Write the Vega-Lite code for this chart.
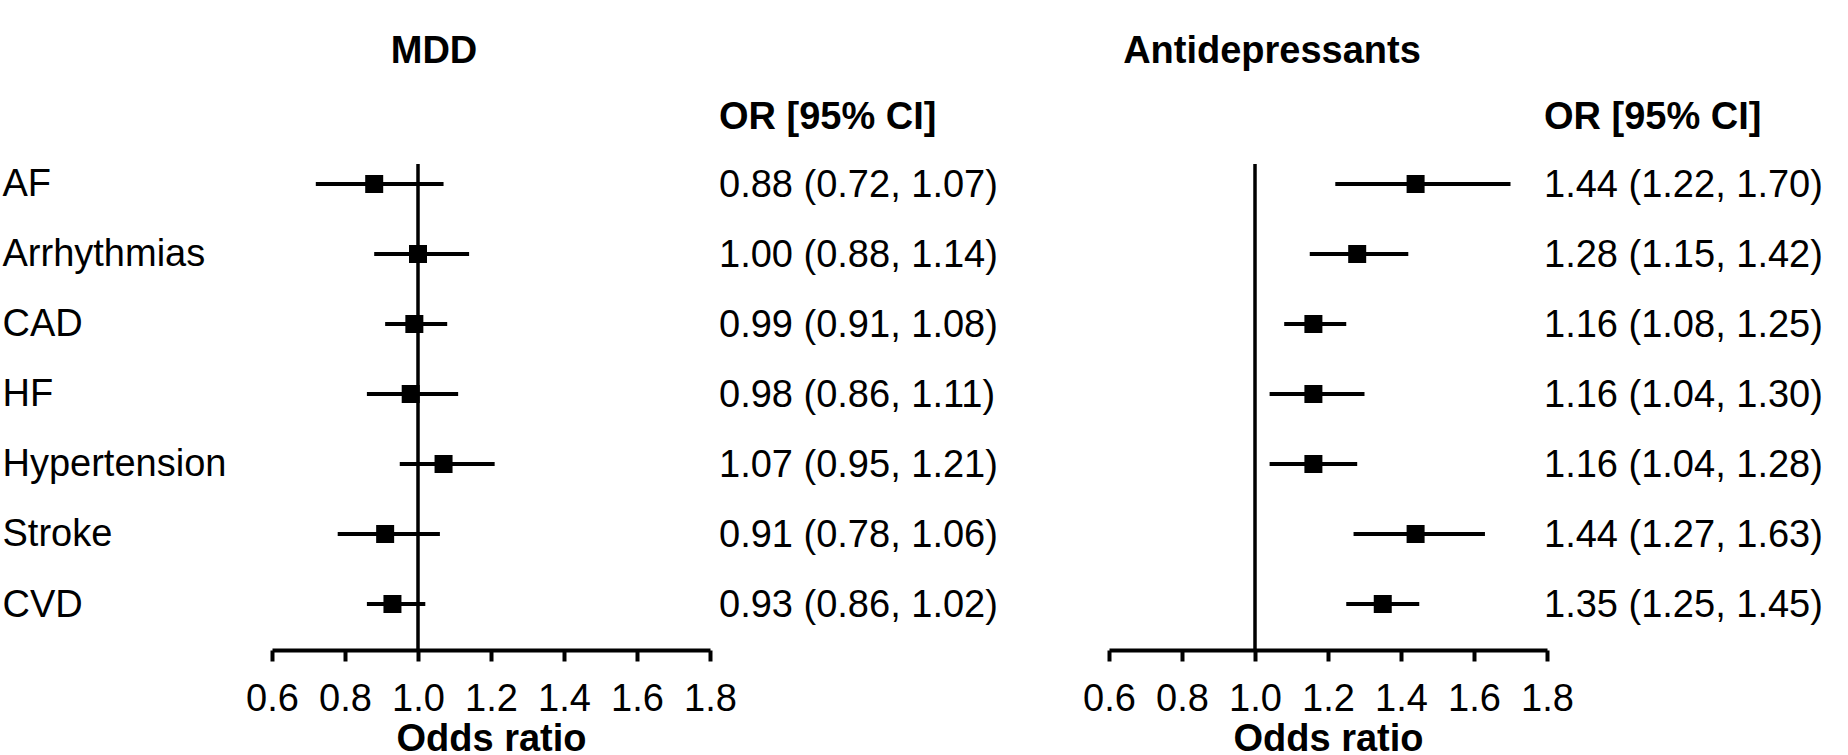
{
  "$schema": "https://vega.github.io/schema/vega-lite/v6.json",
  "padding": {"left": 2, "top": 32, "right": 0, "bottom": 0},
  "background": "white",
  "spacing": 84,
  "config": {
    "font": "Liberation Sans",
    "view": {"stroke": null},
    "title": {"font": "Liberation Sans", "fontSize": 38, "fontWeight": "bold", "color": "black", "anchor": "middle", "frame": "group"},
    "axis": {"labelFont": "Liberation Sans", "titleFont": "Liberation Sans", "labelColor": "black", "titleColor": "black", "grid": false}
  },
  "datasets": {
    "mdd": [
      {"outcome": "AF", "or": 0.88, "lo": 0.72, "hi": 1.07, "ci": "0.88 (0.72, 1.07)"},
      {"outcome": "Arrhythmias", "or": 1.00, "lo": 0.88, "hi": 1.14, "ci": "1.00 (0.88, 1.14)"},
      {"outcome": "CAD", "or": 0.99, "lo": 0.91, "hi": 1.08, "ci": "0.99 (0.91, 1.08)"},
      {"outcome": "HF", "or": 0.98, "lo": 0.86, "hi": 1.11, "ci": "0.98 (0.86, 1.11)"},
      {"outcome": "Hypertension", "or": 1.07, "lo": 0.95, "hi": 1.21, "ci": "1.07 (0.95, 1.21)"},
      {"outcome": "Stroke", "or": 0.91, "lo": 0.78, "hi": 1.06, "ci": "0.91 (0.78, 1.06)"},
      {"outcome": "CVD", "or": 0.93, "lo": 0.86, "hi": 1.02, "ci": "0.93 (0.86, 1.02)"}
    ],
    "ad": [
      {"outcome": "AF", "or": 1.44, "lo": 1.22, "hi": 1.70, "ci": "1.44 (1.22, 1.70)"},
      {"outcome": "Arrhythmias", "or": 1.28, "lo": 1.15, "hi": 1.42, "ci": "1.28 (1.15, 1.42)"},
      {"outcome": "CAD", "or": 1.16, "lo": 1.08, "hi": 1.25, "ci": "1.16 (1.08, 1.25)"},
      {"outcome": "HF", "or": 1.16, "lo": 1.04, "hi": 1.30, "ci": "1.16 (1.04, 1.30)"},
      {"outcome": "Hypertension", "or": 1.16, "lo": 1.04, "hi": 1.28, "ci": "1.16 (1.04, 1.28)"},
      {"outcome": "Stroke", "or": 1.44, "lo": 1.27, "hi": 1.63, "ci": "1.44 (1.27, 1.63)"},
      {"outcome": "CVD", "or": 1.35, "lo": 1.25, "hi": 1.45, "ci": "1.35 (1.25, 1.45)"}
    ],
    "ref": [{"ref": 1.0, "header": "OR [95% CI]", "right": 1.8, "first": "AF"}]
  },
  "hconcat": [
    {
      "width": 438,
      "height": 486,
      "title": {"text": "MDD", "dx": -57, "offset": 28},
      "layer": [
        {
          "data": {"name": "ref"},
          "mark": {"type": "rule", "color": "black", "strokeWidth": 3.5},
          "encoding": {
            "x": {"field": "ref", "type": "quantitative", "scale": {"domain": [0.6, 1.8], "nice": false, "zero": false},
              "axis": {"values": [0.6, 0.8, 1.0, 1.2, 1.4, 1.6, 1.8], "format": ".1f", "tickSize": 11, "tickWidth": 4, "tickColor": "black", "domainWidth": 4, "domainColor": "black", "labelFontSize": 38, "labelPadding": 19, "labelFlush": false, "labelOverlap": false, "title": "Odds ratio", "titleFontSize": 38, "titleFontWeight": "bold", "titlePadding": 2}}
          }
        },
        {
          "data": {"name": "mdd"},
          "mark": {"type": "rule", "color": "black", "strokeWidth": 4},
          "encoding": {
            "x": {"field": "lo", "type": "quantitative"},
            "x2": {"field": "hi"},
            "y": {"field": "outcome", "type": "nominal", "sort": null,
              "scale": {"type": "point", "domain": ["AF", "Arrhythmias", "CAD", "HF", "Hypertension", "Stroke", "CVD"], "padding": 0.4714, "align": 0.303},
              "axis": {"title": null, "domain": false, "ticks": false, "tickSize": 0, "labelAlign": "left", "labelPadding": 270, "labelFontSize": 38, "labelBaseline": "alphabetic", "labelOffset": 12, "labelLimit": 0}}
          }
        },
        {
          "data": {"name": "mdd"},
          "mark": {"type": "square", "color": "black", "filled": true, "opacity": 1, "size": 324},
          "encoding": {
            "x": {"field": "or", "type": "quantitative"},
            "y": {"field": "outcome", "type": "nominal", "sort": null}
          }
        },
        {
          "data": {"name": "mdd"},
          "mark": {"type": "text", "align": "left", "baseline": "alphabetic", "dx": 9, "dy": 13, "fontSize": 38, "color": "black"},
          "encoding": {
            "x": {"datum": 1.8, "type": "quantitative"},
            "y": {"field": "outcome", "type": "nominal", "sort": null},
            "text": {"field": "ci"}
          }
        },
        {
          "data": {"name": "ref"},
          "mark": {"type": "text", "align": "left", "baseline": "alphabetic", "dx": 9, "dy": -55, "fontSize": 38, "fontWeight": "bold", "color": "black"},
          "encoding": {
            "x": {"field": "right", "type": "quantitative"},
            "y": {"field": "first", "type": "nominal"},
            "text": {"field": "header"}
          }
        }
      ]
    },
    {
      "width": 438,
      "height": 486,
      "title": {"text": "Antidepressants", "dx": -56, "offset": 28},
      "layer": [
        {
          "data": {"name": "ref"},
          "mark": {"type": "rule", "color": "black", "strokeWidth": 3.5},
          "encoding": {
            "x": {"field": "ref", "type": "quantitative", "scale": {"domain": [0.6, 1.8], "nice": false, "zero": false},
              "axis": {"values": [0.6, 0.8, 1.0, 1.2, 1.4, 1.6, 1.8], "format": ".1f", "tickSize": 11, "tickWidth": 4, "tickColor": "black", "domainWidth": 4, "domainColor": "black", "labelFontSize": 38, "labelPadding": 19, "labelFlush": false, "labelOverlap": false, "title": "Odds ratio", "titleFontSize": 38, "titleFontWeight": "bold", "titlePadding": 2}}
          }
        },
        {
          "data": {"name": "ad"},
          "mark": {"type": "rule", "color": "black", "strokeWidth": 4},
          "encoding": {
            "x": {"field": "lo", "type": "quantitative"},
            "x2": {"field": "hi"},
            "y": {"field": "outcome", "type": "nominal", "sort": null,
              "scale": {"type": "point", "domain": ["AF", "Arrhythmias", "CAD", "HF", "Hypertension", "Stroke", "CVD"], "padding": 0.4714, "align": 0.303},
              "axis": null}
          }
        },
        {
          "data": {"name": "ad"},
          "mark": {"type": "square", "color": "black", "filled": true, "opacity": 1, "size": 324},
          "encoding": {
            "x": {"field": "or", "type": "quantitative"},
            "y": {"field": "outcome", "type": "nominal", "sort": null}
          }
        },
        {
          "data": {"name": "ad"},
          "mark": {"type": "text", "align": "left", "baseline": "alphabetic", "dx": -3, "dy": 13, "fontSize": 38, "color": "black"},
          "encoding": {
            "x": {"datum": 1.8, "type": "quantitative"},
            "y": {"field": "outcome", "type": "nominal", "sort": null},
            "text": {"field": "ci"}
          }
        },
        {
          "data": {"name": "ref"},
          "mark": {"type": "text", "align": "left", "baseline": "alphabetic", "dx": -3, "dy": -55, "fontSize": 38, "fontWeight": "bold", "color": "black"},
          "encoding": {
            "x": {"field": "right", "type": "quantitative"},
            "y": {"field": "first", "type": "nominal"},
            "text": {"field": "header"}
          }
        }
      ]
    }
  ]
}
